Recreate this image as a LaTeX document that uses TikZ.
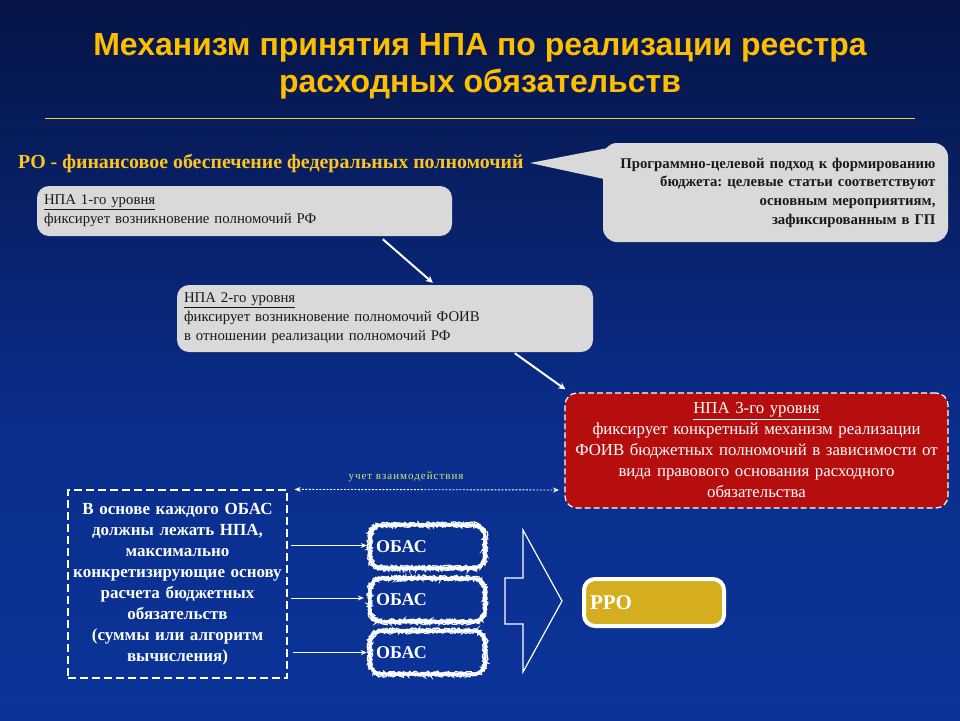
\documentclass[tikz,border=0pt]{standalone}
\usepackage{fontspec}
\setmainfont{Liberation Serif}
\newfontfamily\titlefont{Liberation Sans}
\usetikzlibrary{arrows.meta,decorations.pathmorphing,calc}
\frenchspacing
\definecolor{bgtop}{RGB}{5,16,58}
\definecolor{bgmid}{RGB}{10,46,140}
\definecolor{bgbot}{RGB}{12,58,168}
\definecolor{ttl}{RGB}{255,190,0}
\definecolor{sub}{RGB}{255,196,30}
\definecolor{boxgray}{RGB}{217,217,217}
\definecolor{boxred}{RGB}{182,14,14}
\definecolor{gold}{RGB}{212,174,30}
\definecolor{note}{RGB}{215,228,120}
\definecolor{ink}{RGB}{25,25,25}
\pgfdeclareverticalshading{bgshade}{100bp}{color(0bp)=(bgbot); color(45bp)=(bgmid); color(80bp)=(bgtop); color(100bp)=(bgtop)}
\tikzset{
  graybox/.style={draw=none, fill=boxgray, rounded corners=12pt, align=left, inner xsep=7pt, inner ysep=0pt, text=ink, font=\fontsize{14.8}{19}\selectfont, anchor=center},
  redbox/.style={draw=white, dashed, line width=1.2pt, dash pattern=on 6pt off 3pt, fill=boxred, rounded corners=12pt, align=center, inner sep=0pt, text=white, font=\fontsize{16.8}{21}\selectfont},
  leftbox/.style={draw=white, line width=1.2pt, dash pattern=on 8pt off 4pt, align=center, inner sep=0pt, text=white, font=\bfseries\fontsize{17}{21}\selectfont},
  obas/.style={draw=none, minimum width=115pt, minimum height=43pt, inner xsep=6pt, text=white, font=\bfseries\fontsize{18}{20}\selectfont, align=left, text width=103pt},
  fuzz/.style={draw=white, line width=1.2pt, decorate, decoration={random steps, segment length=1pt, amplitude=1.3pt}},
  wharrow/.style={draw=white, line width=2pt, -{Stealth[length=7pt,width=7pt]}},
  thinarrow/.style={draw=white, line width=1pt, -{Stealth[length=6pt,width=5pt]}},
}
\newcommand{\fuzzbox}[2]{% node name, offset
  \draw[fuzz] ($(#1.north west)+(12pt,#2)$) -- ($(#1.north east)+(-12pt,#2)$)
    arc[start angle=90,end angle=0,radius=12pt+#2]
    -- ($(#1.south east)+(#2,12pt)$)
    arc[start angle=0,end angle=-90,radius=12pt+#2]
    -- ($(#1.south west)+(12pt,-#2)$)
    arc[start angle=-90,end angle=-180,radius=12pt+#2]
    -- ($(#1.north west)+(-#2,-12pt)$)
    arc[start angle=180,end angle=90,radius=12pt+#2] -- cycle;}
\begin{document}
\begin{tikzpicture}[x=1pt,y=-1pt]
\useasboundingbox (0,0) rectangle (960,720);
\shade[shading=bgshade] (0,0) rectangle (960,720);
% title
\node (title) at (480,66) [text=ttl, font=\titlefont\bfseries\fontsize{32}{37}\selectfont, align=center] {Механизм принятия НПА по реализации реестра\\расходных обязательств};
\coordinate (lineL) at (45,118);
\coordinate (lineR) at (915,118);
\draw[draw=ttl!80!white, line width=1pt] (lineL) -- (lineR);
% subtitle
\node (ro) at (18,163) [anchor=west, inner sep=0pt, text=sub, font=\bfseries\fontsize{19.9}{22}\selectfont] {РО - финансовое обеспечение федеральных полномочий};
% callout
\coordinate (ptr) at (530,163);
\fill[boxgray] (ptr) -- (618,146) -- (618,182) -- cycle;
\node (call) at (775.5,192.5) [draw=none, fill=boxgray, rounded corners=14pt, minimum width=345pt, minimum height=99pt, text width=320pt, inner xsep=12pt, align=right, text=ink, font=\bfseries\fontsize{14.8}{18.7}\selectfont] {Программно-целевой подход к формированию\\бюджета: целевые статьи соответствуют\\основным мероприятиям,\\зафиксированным в ГП};
% level boxes
\node (b1) at (244.5,211) [graybox, minimum width=415pt, minimum height=50pt, text width=401pt] {\underline{НПА 1-го уровня}\\фиксирует возникновение полномочий РФ};
\node (b2) at (385,318.5) [graybox, minimum width=416pt, minimum height=67pt, text width=402pt] {\underline{НПА 2-го уровня}\\фиксирует возникновение полномочий ФОИВ\\в отношении реализации полномочий РФ};
\node (b3) at (756.5,450.5) [redbox, minimum width=383pt, minimum height=115pt, text width=379pt] {\underline{НПА 3-го уровня}\\фиксирует конкретный механизм реализации\\ФОИВ бюджетных полномочий в зависимости от\\вида правового основания расходного\\обязательства};
\draw[wharrow] ($(b1.south west)+(346,3)$) -- ($(b2.north west)+(256,-2)$);
\draw[wharrow] ($(b2.south west)+(338,1)$) -- ($(b3.north west)+(1,-3)$);
% left dashed box
\node (lb) at (177.5,584) [leftbox, minimum width=219pt, minimum height=188pt, text width=217pt] {В основе каждого ОБАС\\должны лежать НПА,\\максимально\\конкретизирующие основу\\расчета бюджетных\\обязательств\\(суммы или алгоритм\\вычисления)};
% interaction arrow
\coordinate (iaL) at ($(lb.north east)+(7,0)$);
\coordinate (iaR) at (559,490);
\draw[draw=white, line width=0.9pt, dash pattern=on 2pt off 1.5pt, {Stealth[length=6pt,width=5pt]}-{Stealth[length=6pt,width=5pt]}] (iaL) -- (iaR);
\node (ia) at (406,477) [text=note, font=\fontsize{11}{12}\selectfont\addfontfeature{LetterSpace=9}] {учет взаимодействия};
% OBAS boxes
\node (o1) at (427.5,546.5) [obas] {ОБАС};
\node (o2) at (427.5,600) [obas] {ОБАС};
\node (o3) at (427.5,652.5) [obas] {ОБАС};
\foreach \o in {o1,o2,o3}{
  \draw[white, line width=3pt, rounded corners=12pt] (\o.south west) rectangle (\o.north east);
  \fuzzbox{\o}{1.6pt}
  \fuzzbox{\o}{-1.6pt}
}
\draw[thinarrow] ($(lb.east|-o1.west)+(3,-1)$) -- ($(o1.west)+(-3,-1)$);
\draw[thinarrow] ($(lb.east|-o2.west)+(3,-2)$) -- ($(o2.west)+(-6,-2)$);
\draw[thinarrow] ($(lb.east|-o3.west)+(5,0)$) -- ($(o3.west)+(-3,0)$);
% big outlined arrow
\coordinate (ba1) at (505,578);
\draw[white, line width=1.2pt, line join=miter] (ba1) -- (523,578) -- (523,530) -- (562,601) -- (523,672) -- (523,624) -- (505,624) -- cycle;
% RRO
\node (rro) at (654,602.5) [draw=white, line width=4pt, fill=gold, rounded corners=11pt, minimum width=140pt, minimum height=47pt, text width=128pt, align=left, inner xsep=6pt, text=white, font=\bfseries\fontsize{21}{22}\selectfont] {РРО};
\end{tikzpicture}
\end{document}
